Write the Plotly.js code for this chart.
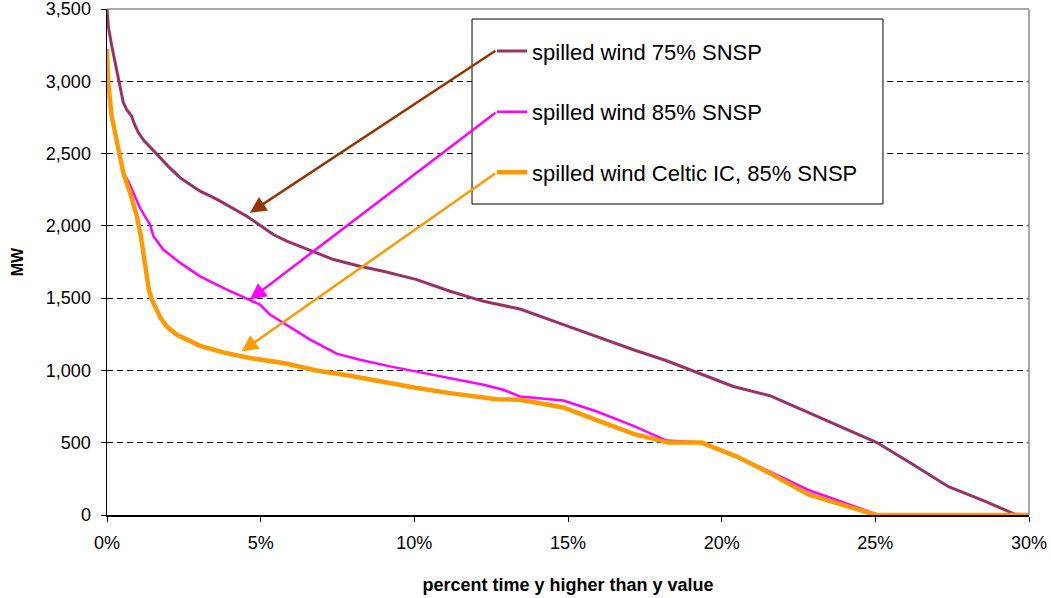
<!DOCTYPE html>
<html>
<head>
<meta charset="utf-8">
<script src="https://cdn.plot.ly/plotly-3.0.1.min.js"></script>
<style>html,body{margin:0;padding:0;background:#fff;}#chart{width:1051px;height:598px;}</style>
</head>
<body>
<div id="chart"></div>
<script>
// percent of time (x) and spilled wind MW (y)
const x75 = [0, 0.05, 0.15, 0.26, 0.4, 0.53, 0.65, 0.8, 0.9, 1.02, 1.2, 1.46, 1.73, 2.0, 2.38, 3.03, 3.58, 4.55, 5.41, 5.85, 6.71, 7.37, 8.23, 8.99, 10.08, 11.16, 12.25, 13.44, 14.85, 16.04, 17.13, 18.21, 19.3, 20.38, 21.57, 22.88, 23.96, 25.05, 26.24, 27.38, 28.52, 29.55, 30];
const y75 = [3500, 3370, 3250, 3130, 2990, 2853, 2800, 2760, 2700, 2645, 2590, 2529, 2472, 2410, 2333, 2240, 2183, 2067, 1940, 1894, 1825, 1767, 1721, 1686, 1628, 1548, 1478, 1425, 1317, 1225, 1143, 1067, 977, 889, 825, 705, 601, 501, 347, 196, 99, 5, 0];

const x85 = [0, 0.04, 0.15, 0.32, 0.53, 0.69, 0.86, 1.07, 1.25, 1.4, 1.51, 1.83, 2.38, 3.03, 3.78, 4.65, 4.98, 5.3, 5.96, 6.61, 7.47, 8.23, 9.21, 10.08, 11.16, 12.25, 12.9, 13.44, 14.85, 15.94, 17.13, 18.21, 19.35, 20.49, 21.57, 22.82, 23.74, 24.94, 25.1, 30];
const y85 = [3222, 2992, 2760, 2599, 2368, 2310, 2229, 2125, 2060, 2010, 1929, 1836, 1744, 1651, 1571, 1490, 1455, 1386, 1300, 1213, 1116, 1074, 1028, 993, 947, 901, 866, 820, 792, 716, 617, 515, 501, 404, 300, 173, 104, 12, 0, 0];

const xCeltic = [0, 0.04, 0.15, 0.32, 0.53, 0.75, 0.97, 1.1, 1.18, 1.27, 1.36, 1.46, 1.6, 1.75, 1.94, 2.27, 2.59, 3.03, 3.78, 4.33, 4.65, 5.74, 6.82, 7.91, 8.99, 10.08, 11.16, 12.25, 12.68, 13.44, 14.85, 16.04, 17.13, 18.27, 19.35, 20.49, 21.57, 22.82, 23.74, 25.02, 30];
const yCeltic = [3222, 2992, 2760, 2599, 2368, 2229, 2067, 1930, 1800, 1650, 1560, 1490, 1420, 1360, 1305, 1247, 1215, 1170, 1125, 1100, 1086, 1051, 1000, 963, 917, 878, 843, 809, 800, 797, 744, 647, 561, 501, 501, 404, 289, 143, 81, 0, 0];

const seriesNames = ['spilled wind 75% SNSP', 'spilled wind 85% SNSP', 'spilled wind Celtic IC, 85% SNSP'];
const seriesColors = ['#993366', '#FF00FF', '#FF9900'];
const arrowColors = ['#993300', '#FF00FF', '#FF9900'];

const traces = [
  {x: x75, y: y75, name: seriesNames[0], legendgroup: 'a', line: {color: seriesColors[0], width: 3}},
  {x: x85, y: y85, name: seriesNames[1], legendgroup: 'b', line: {color: seriesColors[1], width: 2.5}},
  {x: xCeltic, y: yCeltic, name: seriesNames[2], legendgroup: 'c', line: {color: seriesColors[2], width: 4.5}}
].map(t => Object.assign({type: 'scatter', mode: 'lines', hoverinfo: 'skip'}, t));

const font = {family: 'Liberation Sans, Arial, sans-serif', color: '#000'};

const layout = {
  width: 1051, height: 598,
  margin: {l: 107, r: 22, t: 9, b: 83},
  paper_bgcolor: '#fff', plot_bgcolor: '#fff',
  font: font,
  showlegend: true,
  legend: {
    x: 0.4176, y: 0.958, xanchor: 'left', yanchor: 'top',
    bgcolor: 'rgba(0,0,0,0)', borderwidth: 0,
    font: Object.assign({}, font, {size: 22}),
    traceorder: 'grouped', tracegroupgap: 29,
    itemwidth: 30
  },
  xaxis: {
    range: [0, 30], dtick: 5, tick0: 0, ticksuffix: '%',
    showgrid: false, zeroline: false,
    showline: true, linecolor: '#000', linewidth: 1.5,
    ticks: 'outside', ticklen: 5, tickcolor: '#000',
    ticklabelstandoff: 6, ticklabeloverflow: 'allow',
    tickfont: Object.assign({}, font, {size: 18}),
    title: {text: '<b>percent time y higher than y value</b>', font: Object.assign({}, font, {size: 18}), standoff: 26}
  },
  yaxis: {
    range: [0, 3500], dtick: 500, tick0: 0, tickformat: ',d',
    showgrid: true, gridcolor: '#000', gridwidth: 1, griddash: '6px,4px',
    zeroline: false,
    showline: true, linecolor: '#000', linewidth: 1.5,
    ticks: 'outside', ticklen: 5, tickcolor: '#000',
    ticklabelstandoff: 6, ticklabeloverflow: 'allow',
    tickfont: Object.assign({}, font, {size: 18}),
    title: {text: '<b>MW</b>', font: Object.assign({}, font, {size: 16}), standoff: 18}
  },
  shapes: [
    {type: 'line', xref: 'paper', yref: 'paper', x0: 0, x1: 1, y0: 1, y1: 1, line: {color: '#8c8c8c', width: 1.5}, layer: 'above'},
    {type: 'line', xref: 'paper', yref: 'paper', x0: 1, x1: 1, y0: 0, y1: 1, line: {color: '#8c8c8c', width: 1.5}, layer: 'above'},
    {type: 'rect', xref: 'paper', yref: 'paper', x0: 0.3959, x1: 0.8416, y0: 0.6146, y1: 0.9802, line: {color: '#000', width: 1}, fillcolor: '#fff', layer: 'above'}
  ],
  annotations: [
    {x: 4.65, y: 2091, ax: 247, ay: -163, color: arrowColors[0]},
    {x: 4.65, y: 1490, ax: 247, ay: -188, color: arrowColors[1]},
    {x: 4.38, y: 1132, ax: 255, ay: -179, color: arrowColors[2]}
  ].map(a => ({
    x: a.x, y: a.y, xref: 'x', yref: 'y', ax: a.ax, ay: a.ay, text: '',
    showarrow: true, arrowhead: 2, arrowsize: 1.3, arrowwidth: 2.5, arrowcolor: a.color, standoff: 0
  }))
};

Plotly.newPlot('chart', traces, layout, {displayModeBar: false, staticPlot: true});
</script>
</body>
</html>
